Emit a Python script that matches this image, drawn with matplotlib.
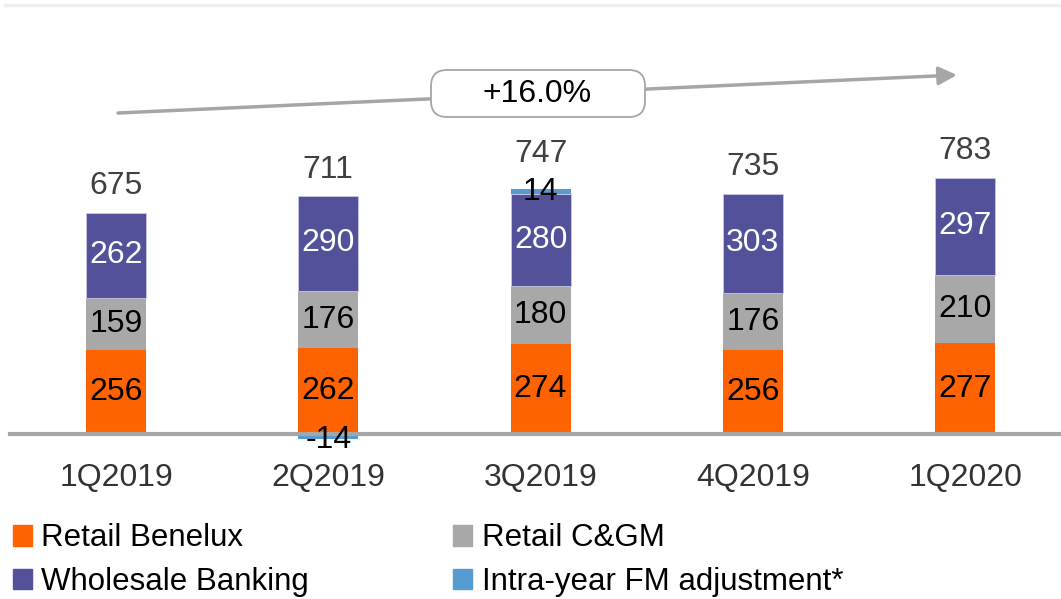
import numpy as np
import matplotlib.pyplot as plt
from matplotlib.patches import Patch, FancyBboxPatch

plt.rcParams['font.family'] = ['Liberation Sans', 'DejaVu Sans']

quarters = ['1Q2019', '2Q2019', '3Q2019', '4Q2019', '1Q2020']
retail_benelux = [256, 262, 274, 256, 277]
retail_cgm = [159, 176, 180, 176, 210]
wholesale = [262, 290, 280, 303, 297]
fm_adj = [0, -14, 14, 0, 0]
totals = [675, 711, 747, 735, 783]
growth_label = '+16.0%'

c_orange = '#FF6200'
c_gray = '#A8A8A8'
c_purple = '#525199'
c_blue = '#559BD1'

W, H = 1061, 599
fig = plt.figure(figsize=(W / 100, H / 100), dpi=100)
# axes in pixel terms: left 5, right 1061, top 5, bottom 469
ax = fig.add_axes([5 / W, (H - 469) / H, (W - 5) / W, (469 - 5) / H])

x = np.arange(len(quarters))
pxu = 212.3  # px per category
ax.set_xlim(-(116 - 5) / pxu, (W - 5) / pxu - (116 - 5) / pxu)
ppu = 0.327  # px per value unit
ax.set_ylim(-(469 - 434) / ppu, (434 - 5) / ppu)

bw = 60 / pxu
rb = np.array(retail_benelux)
rc = np.array(retail_cgm)
wb = np.array(wholesale)
fm = np.array(fm_adj)

ax.bar(x, rb, bw, color=c_orange, linewidth=0, zorder=2)
ax.bar(x, rc, bw, bottom=rb, color=c_gray, linewidth=0, zorder=2)
ax.bar(x, wb, bw, bottom=rb + rc, color=c_purple, edgecolor='#C9C8E6', linewidth=0.6, zorder=2)
fm_bottom = np.where(fm > 0, rb + rc + wb, 0)
ax.bar(x, fm, bw, bottom=fm_bottom, color=c_blue, linewidth=0, zorder=2)

fs = 23
for i in range(len(x)):
    ax.text(x[i], rb[i] / 2, str(rb[i]), ha='center', va='center', fontsize=fs, color='black', zorder=4)
    ax.text(x[i], rb[i] + rc[i] / 2, str(rc[i]), ha='center', va='center', fontsize=fs, color='black', zorder=4)
    ax.text(x[i], rb[i] + rc[i] + wb[i] / 2, str(wb[i]), ha='center', va='center', fontsize=fs, color='white', zorder=4)
    top = rb[i] + rc[i] + wb[i] + max(fm[i], 0)
    if fm[i] > 0:
        ax.text(x[i], top - 8, str(fm[i]), ha='center', va='center', fontsize=fs, color='black', zorder=4)
        ax.text(x[i], top + 107, str(totals[i]), ha='center', va='center', fontsize=fs, color='#404040', zorder=4)
    else:
        ax.text(x[i], top + 80, str(totals[i]), ha='center', va='center', fontsize=fs, color='#404040', zorder=4)
    if fm[i] < 0:
        ax.text(x[i], fm[i] - 3, str(fm[i]), ha='center', va='center', fontsize=fs, color='black', zorder=4)

# baseline
ax.axhline(0, xmin=5 / (W - 5), xmax=1, color='#A6A6A6', linewidth=3, zorder=3)

# growth arrow
x0 = (118 - 116) / pxu
x1 = (957 - 116) / pxu
y0 = (434 - 113) / ppu
y1 = (434 - 75) / ppu
ax.annotate('', xy=(x1, y1), xytext=(x0, y0),
            arrowprops=dict(arrowstyle='-|>,head_length=1.1,head_width=0.55', color='#A6A6A6', lw=2.5,
                            shrinkA=0, shrinkB=0), zorder=3)
# rounded label box (pixel-sized, drawn in inches so corners stay round)
box = FancyBboxPatch((4.31, (H - 117) / 100), 2.14, 0.47,
                     boxstyle='round,pad=0,rounding_size=0.16', fc='white', ec='#A6A6A6', lw=1.3,
                     transform=fig.dpi_scale_trans, zorder=5)
fig.add_artist(box)
fig.text(5.375 / (W / 100), (H - 94) / H, growth_label, ha='center', va='center', fontsize=fs,
         color='black', zorder=6)

ax.set_xticks(x)
ax.set_xticklabels(quarters, fontsize=fs, color='#333333')
ax.tick_params(axis='x', length=0, pad=-4)
ax.set_yticks([])
for s in ['left', 'right', 'bottom']:
    ax.spines[s].set_visible(False)
ax.spines['top'].set_color('#EEEEEE')
ax.spines['top'].set_linewidth(2.5)

handles = [Patch(color=c_orange), Patch(color=c_purple), Patch(color=c_gray), Patch(color=c_blue)]
labels = ['Retail Benelux', 'Wholesale Banking', 'Retail C&GM', 'Intra-year FM adjustment*']
fig.legend(handles, labels, ncol=2, loc='upper left', bbox_to_anchor=(0.0, (H - 511) / H),
           frameon=False, fontsize=22.5, handlelength=0.62, handleheight=0.62, handletextpad=0.3,
           columnspacing=4.6, labelspacing=0.43, borderaxespad=0)

fig.savefig('out.png', dpi=100)
